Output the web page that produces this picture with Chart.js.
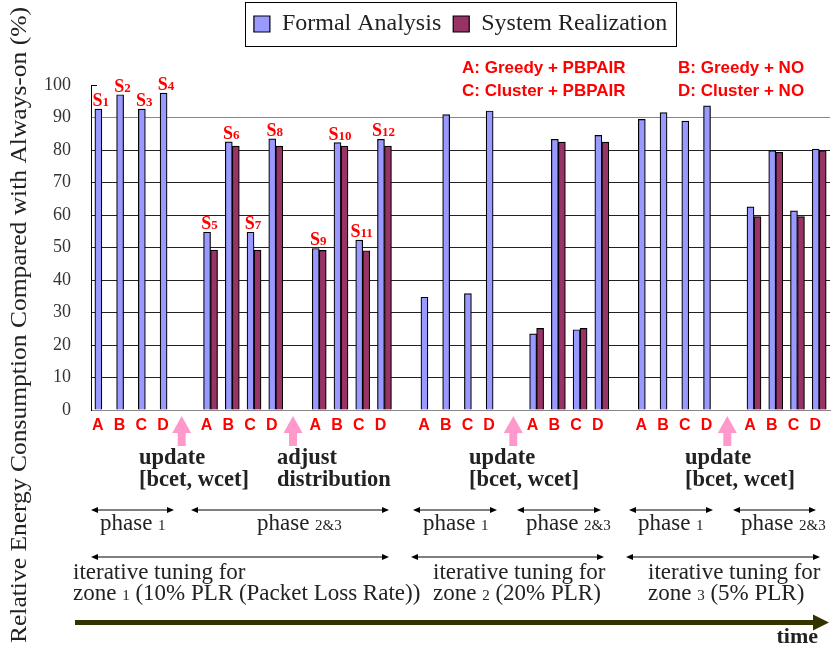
<!DOCTYPE html>
<html><head><meta charset="utf-8">
<script src="https://cdn.jsdelivr.net/npm/chart.js@4/dist/chart.umd.min.js"></script>
<style>html,body{margin:0;padding:0;background:#fff;overflow:hidden}canvas{display:block}</style>
</head><body>
<canvas id="c" width="831" height="647" style="width:831px;height:647px"></canvas>
<script>
// ---------------- data ----------------
// 7 groups (A..D) separated by one empty category
const categories = [
  'A','B','C','D','',
  'A','B','C','D','',
  'A','B','C','D','',
  'A','B','C','D','',
  'A','B','C','D','',
  'A','B','C','D','',
  'A','B','C','D'
];
const formalAnalysis = [
  92.6, 97.0, 92.6, 97.5, null,
  54.7, 82.5, 54.7, 83.4, null,
  49.7, 82.3, 52.3, 83.3, null,
  34.7, 90.9, 35.8, 92.0, null,
  23.4, 83.3, 24.7, 84.5, null,
  89.4, 91.5, 88.9, 93.6, null,
  62.5, 79.8, 61.3, 80.3
];
const systemRealization = [
  null, null, null, null, null,
  49.2, 81.2, 49.2, 81.2, null,
  49.1, 81.2, 49.0, 81.2, null,
  null, null, null, null, null,
  25.1, 82.4, 25.1, 82.4, null,
  null, null, null, null, null,
  59.5, 79.3, 59.5, 79.8
];
const stateLabels = [
  'S1','S2','S3','S4','',
  'S5','S6','S7','S8','',
  'S9','S10','S11','S12','',
  '','','','','',
  '','','','','',
  '','','','','',
  '','','',''
];
const seriesNames = ['Formal Analysis', 'System Realization'];
const yTicks = [0,10,20,30,40,50,60,70,80,90,100];
const strategyNotes = ['A: Greedy + PBPAIR', 'B: Greedy + NO', 'C: Cluster + PBPAIR', 'D: Cluster + NO'];
const yTitle = 'Relative Energy Consumption Compared with Always-on (%)';

// ---------------- drawing helpers ----------------
const SERIF = '"Liberation Serif", "Times New Roman", Times, serif';
const SANS = '"Liberation Sans", Arial, Helvetica, sans-serif';

function mixed(ctx, x, y, parts, align, color) {
  // parts: [text, size, bold]
  let w = 0;
  const ws = parts.map(p => {
    ctx.font = (p[2] ? 'bold ' : '') + p[1] + 'px ' + SERIF;
    const m = ctx.measureText(p[0]).width; w += m; return m;
  });
  let cx = align === 'right' ? x - w : align === 'center' ? x - w / 2 : x;
  ctx.textAlign = 'left';
  ctx.textBaseline = 'alphabetic';
  ctx.fillStyle = color;
  parts.forEach((p, i) => {
    ctx.font = (p[2] ? 'bold ' : '') + p[1] + 'px ' + SERIF;
    ctx.fillText(p[0], cx, y);
    cx += ws[i];
  });
}
function dblArrow(ctx, x1, x2, y) {
  ctx.save();
  ctx.strokeStyle = '#000'; ctx.fillStyle = '#000'; ctx.lineWidth = 1;
  ctx.beginPath(); ctx.moveTo(x1 + 4, y); ctx.lineTo(x2 - 4, y); ctx.stroke();
  ctx.beginPath(); ctx.moveTo(x1, y); ctx.lineTo(x1 + 7, y - 3); ctx.lineTo(x1 + 7, y + 3); ctx.closePath(); ctx.fill();
  ctx.beginPath(); ctx.moveTo(x2, y); ctx.lineTo(x2 - 7, y - 3); ctx.lineTo(x2 - 7, y + 3); ctx.closePath(); ctx.fill();
  ctx.restore();
}
function pinkArrow(ctx, x) {
  ctx.save();
  ctx.fillStyle = '#FF99CC';
  ctx.beginPath();
  ctx.moveTo(x, 416); ctx.lineTo(x + 9.5, 433); ctx.lineTo(x + 4, 433); ctx.lineTo(x + 4, 446);
  ctx.lineTo(x - 4, 446); ctx.lineTo(x - 4, 433); ctx.lineTo(x - 9.5, 433); ctx.closePath(); ctx.fill();
  ctx.restore();
}

// ---------------- plugins ----------------
const legendSpace = {
  id: 'legendSpace',
  beforeInit(chart) {
    const fit = chart.legend.fit;
    chart.legend.fit = function () { fit.call(this); this.height = 85; };
  }
};

const annotations = {
  id: 'annotations',
  afterDraw(chart) {
    const ctx = chart.ctx;
    const xs = chart.scales.x;
    const ca = chart.chartArea;
    ctx.save();

    // legend frame
    const hb = chart.legend.legendHitBoxes;
    if (hb && hb.length) {
      const l = hb[0].left - 9;
      const last = hb[hb.length - 1];
      const r = last.left + last.width + 9;
      const cy = hb[0].top + hb[0].height / 2;
      ctx.strokeStyle = '#000'; ctx.lineWidth = 1;
      ctx.strokeRect(Math.round(l) + 0.5, Math.round(cy - 22) + 0.5, Math.round(r - l), 44);
    }

    // small tick at 100
    ctx.strokeStyle = '#000'; ctx.lineWidth = 1;
    ctx.beginPath(); ctx.moveTo(ca.left, ca.top + 0.5); ctx.lineTo(ca.left + 6, ca.top + 0.5); ctx.stroke();

    // y title
    ctx.save();
    ctx.translate(26, 325);
    ctx.rotate(-Math.PI / 2);
    ctx.font = '23px ' + SERIF;
    const tw = ctx.measureText(yTitle).width;
    ctx.scale(636 / tw, 1);
    ctx.fillStyle = '#222';
    ctx.textAlign = 'center'; ctx.textBaseline = 'alphabetic';
    ctx.fillText(yTitle, 0, 0);
    ctx.restore();

    // S labels
    const m0 = chart.getDatasetMeta(0), m1 = chart.getDatasetMeta(1);
    stateLabels.forEach((s, i) => {
      if (!s) return;
      let top = Infinity;
      if (formalAnalysis[i] != null) top = Math.min(top, m0.data[i].y);
      if (systemRealization[i] != null) top = Math.min(top, m1.data[i].y);
      const x = xs.getPixelForValue(i) - 1;
      mixed(ctx, x, top - 3, [['S', 18, true], [s.slice(1), 13, true]], 'center', '#FF0000');
    });

    // strategy notes
    ctx.fillStyle = '#FF0000';
    ctx.font = 'bold 17px ' + SANS;
    ctx.textAlign = 'left'; ctx.textBaseline = 'alphabetic';
    ctx.fillText(strategyNotes[0], 462, 73);
    ctx.fillText(strategyNotes[2], 462, 96);
    ctx.fillText(strategyNotes[1], 678, 73);
    ctx.fillText(strategyNotes[3], 678, 96);

    // pink arrows
    [181.7, 293, 513.3, 727.3].forEach(x => pinkArrow(ctx, x));

    // update notes
    const notes = [[139, 'update', '[bcet, wcet]'], [277, 'adjust', 'distribution'],
                   [469, 'update', '[bcet, wcet]'], [685, 'update', '[bcet, wcet]']];
    notes.forEach(n => {
      mixed(ctx, n[0], 464, [[n[1], 22.5, true]], 'left', '#222');
      mixed(ctx, n[0], 486, [[n[2], 22.5, true]], 'left', '#222');
    });

    // phase arrows
    [[91, 174], [191, 389], [413, 497], [517, 601], [629, 713], [733, 816]].forEach(a => dblArrow(ctx, a[0], a[1], 510));
    const phases = [[100, '1'], [257, '2&3'], [423, '1'], [526, '2&3'], [638, '1'], [741, '2&3']];
    phases.forEach(p => mixed(ctx, p[0], 530, [['phase ', 23, false], [p[1], 15, false]], 'left', '#222'));

    // zone arrows
    [[91, 389], [411, 604], [626, 820]].forEach(a => dblArrow(ctx, a[0], a[1], 557));
    const zones = [[73, '1', ' (10% PLR (Packet Loss Rate))'], [433, '2', ' (20% PLR)'], [648, '3', ' (5% PLR)']];
    zones.forEach(z => {
      mixed(ctx, z[0], 579, [['iterative tuning for', 23, false]], 'left', '#222');
      mixed(ctx, z[0], 600, [['zone ', 23, false], [z[1], 15, false], [z[2], 23, false]], 'left', '#222');
    });

    // time arrow
    ctx.fillStyle = '#333300';
    ctx.fillRect(75, 620, 740, 5);
    ctx.beginPath(); ctx.moveTo(829, 622.5); ctx.lineTo(813, 614.5); ctx.lineTo(813, 630.5); ctx.closePath(); ctx.fill();
    mixed(ctx, 818, 643, [['time', 22, true]], 'right', '#222');

    ctx.restore();
  }
};

// ---------------- chart ----------------
new Chart(document.getElementById('c'), {
  type: 'bar',
  data: {
    labels: categories,
    datasets: [
      { label: seriesNames[0], data: formalAnalysis, backgroundColor: '#9999FF', borderColor: '#000', borderWidth: 1.2, barThickness: 7 },
      { label: seriesNames[1], data: systemRealization, backgroundColor: '#993366', borderColor: '#000', borderWidth: 1.2, barThickness: 7 }
    ]
  },
  options: {
    responsive: false,
    animation: false,
    devicePixelRatio: 1,
    layout: { padding: { left: 0, right: 0, top: 0, bottom: 207 } },
    plugins: {
      legend: {
        display: true, position: 'top', fullSize: false,
        labels: { font: { family: SERIF, size: 24 }, color: '#222', boxWidth: 16, boxHeight: 16, padding: 12 }
      },
      tooltip: { enabled: false }
    },
    scales: {
      x: {
        grid: { display: false, drawTicks: false },
        border: { display: true, color: '#888', width: 1 },
        ticks: { autoSkip: false, maxRotation: 0, minRotation: 0, color: '#FF0000',
                 font: { family: SANS, weight: 'bold', size: 16 }, padding: 6, labelOffset: -4 },
        afterFit(s) { s.height = 30; }
      },
      y: {
        min: 0, max: 100,
        afterBuildTicks(s) { s.ticks = yTicks.map(v => ({ value: v })); },
        ticks: { color: '#333', font: { family: SERIF, size: 18 }, padding: 20 },
        grid: {
          drawTicks: false, lineWidth: 1,
          color(c) { const v = c.tick && c.tick.value; if (v === 100) return 'rgba(0,0,0,0)'; if (v === 90 || v === 0) return '#888'; return '#222'; }
        },
        border: { display: true, color: '#000', width: 1 },
        afterFit(s) { s.width = 91; }
      }
    }
  },
  plugins: [legendSpace, annotations]
});
</script>
</body></html>
